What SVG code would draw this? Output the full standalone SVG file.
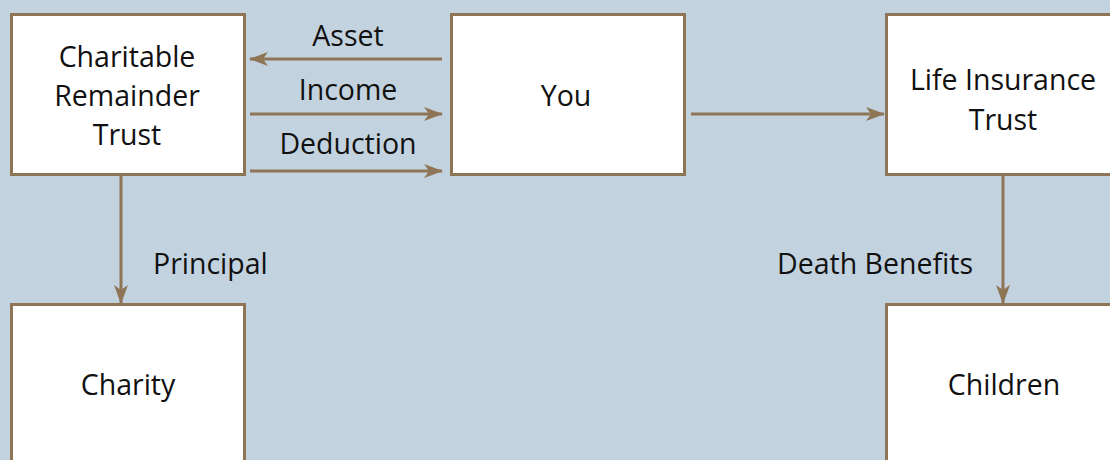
<svg xmlns="http://www.w3.org/2000/svg" width="1110" height="460" viewBox="0 0 1110 460">
<style>
.box{fill:#fff;stroke:#8E7556;stroke-width:3}
.t{font-family:"Open Sans","Noto Sans",sans-serif;font-size:28.5px;fill:#111;text-anchor:middle}
.c{stroke:#8E7556;stroke-width:3;fill:none}
</style>
<defs>
<marker id="ah" markerUnits="userSpaceOnUse" markerWidth="20" markerHeight="14" refX="18" refY="7" orient="auto">
<path d="M0,0 L19,7 L0,14 L5,7 Z" fill="#8E7556"/>
</marker>
</defs>
<rect width="1110" height="460" fill="#C3D2DF"/>
<g id="connectors">
<line class="c" x1="442" y1="59" x2="250" y2="59" marker-end="url(#ah)"/>
<line class="c" x1="250" y1="114" x2="442" y2="114" marker-end="url(#ah)"/>
<line class="c" x1="250" y1="171" x2="442" y2="171" marker-end="url(#ah)"/>
<line class="c" x1="691" y1="114" x2="884" y2="114" marker-end="url(#ah)"/>
<line class="c" x1="121" y1="176" x2="121" y2="303" marker-end="url(#ah)"/>
<line class="c" x1="1003" y1="176" x2="1003" y2="303" marker-end="url(#ah)"/>
<text class="t" x="348" y="46">Asset</text>
<text class="t" x="348" y="100">Income</text>
<text class="t" x="348" y="154">Deduction</text>
<text class="t" x="153" y="274" style="text-anchor:start">Principal</text>
<text class="t" x="973" y="274" style="text-anchor:end">Death Benefits</text>
</g>
<g id="crt">
<rect class="box" x="11.5" y="14.5" width="233" height="160"/>
<text class="t" x="127" y="67">Charitable</text>
<text class="t" x="127" y="106">Remainder</text>
<text class="t" x="127" y="145">Trust</text>
</g>
<g id="you">
<rect class="box" x="451.5" y="14.5" width="233" height="160"/>
<text class="t" x="566" y="106">You</text>
</g>
<g id="lit">
<rect class="box" x="886.5" y="14.5" width="240" height="160"/>
<text class="t" x="1003" y="90">Life Insurance</text>
<text class="t" x="1003" y="130">Trust</text>
</g>
<g id="charity">
<rect class="box" x="11.5" y="304.5" width="233" height="170"/>
<text class="t" x="128" y="395">Charity</text>
</g>
<g id="children">
<rect class="box" x="886.5" y="304.5" width="240" height="170"/>
<text class="t" x="1004" y="395">Children</text>
</g>
</svg>
